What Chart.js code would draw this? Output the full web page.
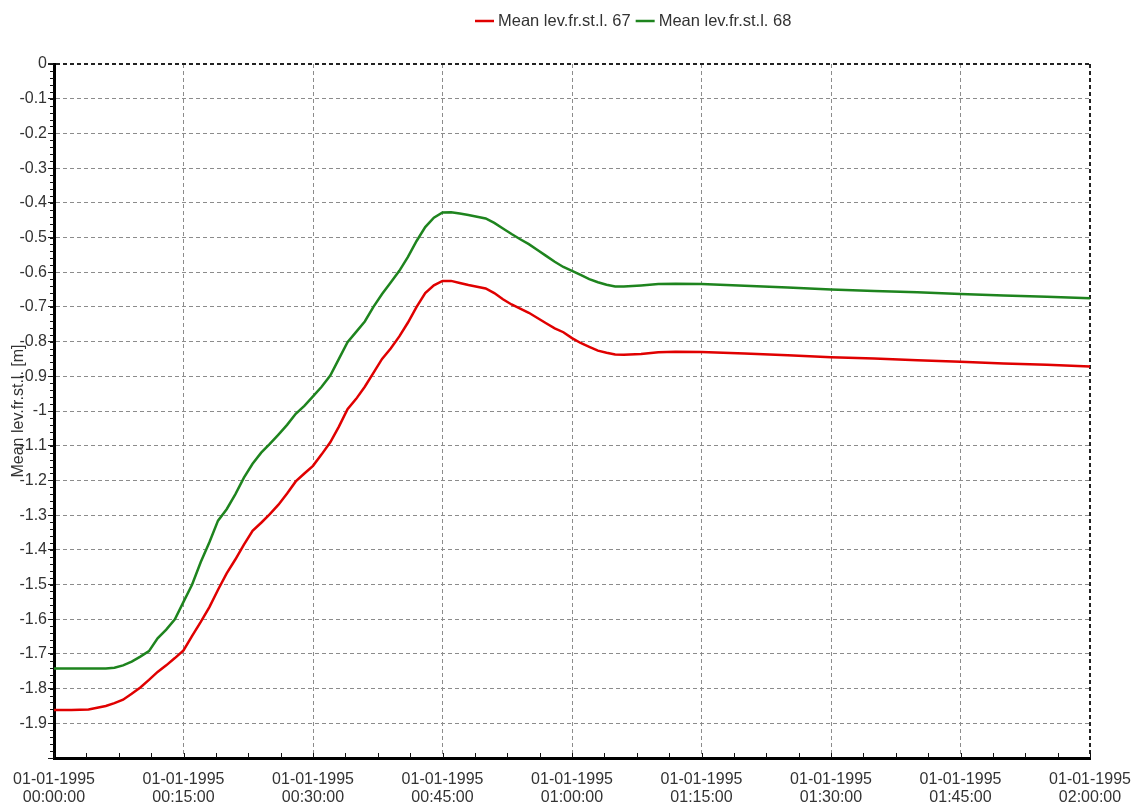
<!DOCTYPE html>
<html>
<head>
<meta charset="utf-8">
<script src="https://cdn.jsdelivr.net/npm/chart.js@4/dist/chart.umd.min.js"></script>
<style>
  html, body { margin: 0; padding: 0; background: #fff; overflow: hidden; }
  #wrap { position: relative; width: 1133px; height: 804px; }
</style>
</head>
<body>
<div id="wrap"><canvas id="chart" width="1133" height="804"></canvas></div>
<script>
// time axis in minutes since 01-01-1995 00:00:00
const minutes = [0, 2, 4, 5, 6, 7, 8, 9, 10, 11, 12, 13, 14, 15, 16, 17, 18, 19, 20,
  21, 22, 23, 24, 25, 26, 27, 28, 29, 30, 31, 32, 33, 34, 35, 36, 37, 38, 39, 40,
  41, 42, 43, 44, 45, 46, 47, 48, 49, 50, 51, 52, 53, 54, 55, 56, 57, 58, 59, 60,
  61, 62, 63, 64, 65, 66, 68, 70, 72, 75, 80, 85, 90, 95, 100, 105, 110, 115, 120];

const level67 = [-1.862, -1.862, -1.860, -1.855, -1.850, -1.842, -1.832, -1.815, -1.797,
  -1.775, -1.752, -1.733, -1.712, -1.690, -1.648, -1.608, -1.565, -1.515, -1.468,
  -1.428, -1.385, -1.345, -1.322, -1.297, -1.270, -1.238, -1.203, -1.180, -1.158,
  -1.125, -1.090, -1.045, -0.995, -0.965, -0.930, -0.890, -0.850, -0.820, -0.785,
  -0.745, -0.700, -0.660, -0.638, -0.625, -0.625, -0.631, -0.637, -0.642, -0.647,
  -0.660, -0.678, -0.693, -0.705, -0.717, -0.732, -0.747, -0.762, -0.773, -0.790,
  -0.804, -0.815, -0.826, -0.832, -0.837, -0.838, -0.836, -0.831, -0.829, -0.830,
  -0.834, -0.839, -0.845, -0.849, -0.854, -0.858, -0.863, -0.867, -0.872];

const level68 = [-1.742, -1.742, -1.742, -1.742, -1.742, -1.740, -1.733, -1.722, -1.708,
  -1.692, -1.655, -1.630, -1.600, -1.550, -1.500, -1.435, -1.378, -1.316, -1.283,
  -1.240, -1.192, -1.152, -1.120, -1.095, -1.068, -1.040, -1.008, -0.985, -0.958,
  -0.930, -0.898, -0.850, -0.802, -0.772, -0.742, -0.700, -0.663, -0.630, -0.596,
  -0.556, -0.510, -0.470, -0.443, -0.428, -0.427, -0.431, -0.435, -0.440, -0.445,
  -0.458, -0.474, -0.490, -0.505, -0.519, -0.536, -0.553, -0.570, -0.585, -0.596,
  -0.608, -0.620, -0.629, -0.636, -0.641, -0.641, -0.638, -0.634, -0.633, -0.634,
  -0.639, -0.644, -0.650, -0.654, -0.658, -0.663, -0.667, -0.671, -0.675];

const seriesNames = ["Mean lev.fr.st.l. 67", "Mean lev.fr.st.l. 68"];
const seriesColors = ["#e00000", "#1e841e"];

const xTickLabels = [
  ["01-01-1995", "00:00:00"], ["01-01-1995", "00:15:00"], ["01-01-1995", "00:30:00"],
  ["01-01-1995", "00:45:00"], ["01-01-1995", "01:00:00"], ["01-01-1995", "01:15:00"],
  ["01-01-1995", "01:30:00"], ["01-01-1995", "01:45:00"], ["01-01-1995", "02:00:00"]
];
const yTickLabels = ["0", "-0.1", "-0.2", "-0.3", "-0.4", "-0.5", "-0.6", "-0.7", "-0.8",
  "-0.9", "-1", "-1.1", "-1.2", "-1.3", "-1.4", "-1.5", "-1.6", "-1.7", "-1.8", "-1.9", ""];
const yTitle = "Mean lev.fr.st.l. [m]";

const FONT = "'Liberation Sans', Arial, sans-serif";
const TEXT = "#333";

// minor tick marks on both axes + y title + legend
const extras = {
  id: "extras",
  afterDraw(chart) {
    const ctx = chart.ctx;
    const area = chart.chartArea;
    const xs = chart.scales.x;
    const ys = chart.scales.y;
    ctx.save();
    ctx.strokeStyle = "#111";
    ctx.lineWidth = 1;
    for (let m = 0; m <= 120; m += 3.75) {
      const px = Math.round(xs.getPixelForValue(m)) + 0.5;
      ctx.beginPath();
      ctx.moveTo(px, area.bottom);
      ctx.lineTo(px, area.bottom - 5);
      ctx.stroke();
    }
    for (let k = 0; k <= 100; k++) {
      const py = Math.round(ys.getPixelForValue(-k * 0.02)) + 0.5;
      ctx.beginPath();
      ctx.moveTo(area.left, py);
      ctx.lineTo(area.left - 4, py);
      ctx.stroke();
    }

    // y axis title, drawn over the tick labels like the original
    ctx.fillStyle = TEXT;
    ctx.font = "16px " + FONT;
    ctx.textAlign = "center";
    ctx.textBaseline = "middle";
    ctx.translate(19, (area.top + area.bottom) / 2);
    ctx.rotate(-Math.PI / 2);
    ctx.fillText(yTitle, 0, 0);
    ctx.restore();

    // legend
    ctx.save();
    ctx.font = "16.5px " + FONT;
    ctx.textBaseline = "middle";
    ctx.textAlign = "left";
    let x = 475;
    const y = 21;
    chart.data.datasets.forEach((ds) => {
      ctx.strokeStyle = ds.borderColor;
      ctx.lineWidth = 2.5;
      ctx.beginPath();
      ctx.moveTo(x, y);
      ctx.lineTo(x + 19, y);
      ctx.stroke();
      x += 23;
      ctx.fillStyle = TEXT;
      ctx.fillText(ds.label, x, y);
      x += ctx.measureText(ds.label).width + 5;
    });
    ctx.restore();
  }
};

new Chart(document.getElementById("chart"), {
  type: "line",
  data: {
    datasets: [
      {
        label: seriesNames[0],
        data: minutes.map((m, i) => ({ x: m, y: level67[i] })),
        borderColor: seriesColors[0],
        backgroundColor: seriesColors[0],
        borderWidth: 2.5,
        pointRadius: 0,
        tension: 0
      },
      {
        label: seriesNames[1],
        data: minutes.map((m, i) => ({ x: m, y: level68[i] })),
        borderColor: seriesColors[1],
        backgroundColor: seriesColors[1],
        borderWidth: 2.5,
        pointRadius: 0,
        tension: 0
      }
    ]
  },
  options: {
    responsive: false,
    animation: false,
    layout: { padding: { top: 64, right: 43, bottom: 0, left: 0 } },
    plugins: {
      legend: { display: false },
      tooltip: { enabled: false }
    },
    scales: {
      x: {
        type: "linear",
        min: 0,
        max: 120,
        afterFit: (scale) => {
          scale.height = 46;
          scale.paddingLeft = 0;
          scale.paddingRight = 0;
        },
        ticks: {
          stepSize: 15,
          autoSkip: false,
          maxRotation: 0,
          padding: 12,
          color: TEXT,
          font: { family: FONT, size: 16, lineHeight: 1.15 },
          callback: (value) => xTickLabels[Math.round(value / 15)]
        },
        grid: {
          drawTicks: false,
          color: (c) => (c.tick && c.tick.value === 120 ? "#222" : "#8c8c8c"),
          lineWidth: (c) => (c.tick && c.tick.value === 120 ? 2 : 1)
        },
        border: { display: true, color: "#000", width: 3, dash: [4, 3] }
      },
      y: {
        min: -2,
        max: 0,
        afterFit: (scale) => { scale.width = 54; },
        ticks: {
          stepSize: 0.1,
          autoSkip: false,
          padding: 1,
          color: TEXT,
          font: { family: FONT, size: 16 },
          callback: (value) => yTickLabels[Math.round(-value * 10)]
        },
        grid: {
          tickLength: 6,
          tickColor: "#222",
          color: (c) => (c.tick && c.tick.value === 0 ? "#222" : "#8c8c8c"),
          lineWidth: (c) => (c.tick && c.tick.value === 0 ? 2 : 1)
        },
        border: { display: true, color: "#000", width: 3, dash: [4, 3] }
      }
    }
  },
  plugins: [extras]
});
</script>
</body>
</html>
